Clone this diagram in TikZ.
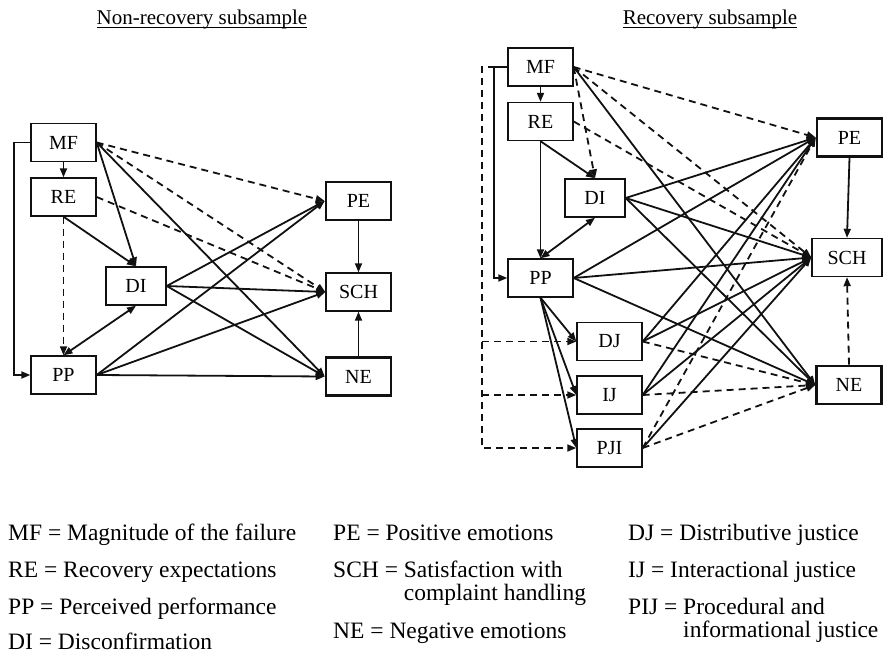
\documentclass[tikz,border=0pt]{standalone}
\usepackage{fontspec}
\setmainfont{Liberation Serif}
\usetikzlibrary{arrows.meta, positioning, calc}
\definecolor{InkBlack}{HTML}{111111}
\tikzset{
  varbox/.style={draw=InkBlack, line width=1.4pt, minimum width=65pt,
                 minimum height=38pt, inner sep=0pt,
                 font=\fontsize{20}{22}\selectfont},
  outbox/.style={varbox, line width=2.6pt},
  link/.style={-{Triangle[length=9pt,width=7pt]}, line width=1.8pt, draw=InkBlack},
  dlink/.style={link, dash pattern=on 7pt off 5pt},
  bilink/.style={{Triangle[length=9pt,width=7pt]}-{Triangle[length=9pt,width=7pt]},
                 line width=1.8pt, draw=InkBlack},
  heading/.style={anchor=base, inner sep=0pt, font=\fontsize{21}{24}\selectfont},
  legend/.style={anchor=base west, inner sep=0pt, font=\fontsize{23.5}{23}\selectfont},
}

\begin{document}
\begin{tikzpicture}[x=1pt, y=-1pt]
  \useasboundingbox (0,0) rectangle (887,658);

  % titles
  \node[heading] (nrTitle) at (202,25) {Non-recovery subsample};
  \node[heading] (rcTitle) at (710,25) {Recovery subsample};
  \draw[line width=1pt] ([yshift=-3pt]nrTitle.base west) -- ([yshift=-3pt]nrTitle.base east);
  \draw[line width=1pt] ([yshift=-3pt]rcTitle.base west) -- ([yshift=-3pt]rcTitle.base east);

  % non-recovery model
  \node[varbox] (nrMF) at (63.5,142.5) {MF};
  \node[varbox] (nrRE) at (63.5,197) {RE};
  \node[varbox, minimum width=60pt] (nrDI) at (136,286) {DI};
  \node[varbox] (nrPP) at (63.5,375) {PP};
  \node[outbox] (nrPE) at (358.5,201) {PE};
  \node[varbox] (nrSCH) at (358.5,292) {SCH};
  \node[outbox] (nrNE) at (358.5,376.5) {NE};

  \draw[link] (nrMF.south) -- (nrRE.north);
  \draw[link] (nrMF.west) -- ++(-16,0) |- (nrPP.west);
  \draw[dlink] (nrMF.east) -- (nrPE.west);
  \draw[dlink] (nrMF.east) -- (nrSCH.west);
  \draw[link] (nrMF.east) -- (nrDI.north);
  \draw[link] (nrMF.east) -- (nrNE.west);
  \draw[dlink] (nrRE.east) -- (nrSCH.west);
  \draw[link] (nrRE.south) -- (nrDI.north);
  \draw[dlink] (nrRE.south) -- (nrPP.north);
  \draw[bilink] (nrPP.north) -- (nrDI.south);
  \foreach \src in {DI,PP}
    \foreach \dst in {PE,SCH,NE}
      \draw[link] (nr\src.east) -- (nr\dst.west);
  \draw[link] (nrPE.south) -- (nrSCH.north);
  \draw[link] (nrNE.north) -- (nrSCH.south);

  % recovery model
  \node[varbox] (rcMF) at (540.5,67) {MF};
  \node[varbox] (rcRE) at (540.5,121.5) {RE};
  \node[varbox, minimum width=60pt] (rcDI) at (595,198) {DI};
  \node[varbox] (rcPP) at (540.5,278) {PP};
  \node[varbox] (rcDJ) at (609.5,341.5) {DJ};
  \node[varbox] (rcIJ) at (609.5,395) {IJ};
  \node[varbox] (rcPJI) at (609.5,448) {PJI};
  \node[outbox] (rcPE) at (849.5,137.5) {PE};
  \node[varbox, minimum width=70pt] (rcSCH) at (847,257.5) {SCH};
  \node[outbox] (rcNE) at (849,385) {NE};

  \coordinate (rcSpine) at ($(rcMF.west)+(-25,0)$);
  \coordinate (rcTapDJ) at (rcSpine |- rcDJ.west);
  \coordinate (rcTapIJ) at (rcSpine |- rcIJ.west);

  \draw[link] (rcMF.south) -- (rcRE.north);
  \draw[dlink] (rcMF.west) -- (rcSpine) |- (rcPJI.west);
  \draw[dlink] (rcTapDJ) -- (rcDJ.west);
  \draw[dlink] (rcTapIJ) -- (rcIJ.west);
  \draw[link] (rcMF.west) -- ++(-13,0) |- (rcPP.west);
  \draw[dlink] (rcMF.east) -- (rcPE.west);
  \draw[dlink] (rcMF.east) -- (rcSCH.west);
  \draw[dlink] (rcMF.east) -- (rcDI.north);
  \draw[link] (rcMF.east) -- (rcNE.west);
  \draw[dlink] (rcRE.east) -- (rcSCH.west);
  \draw[link] (rcRE.south) -- (rcDI.north);
  \draw[link] (rcRE.south) -- (rcPP.north);
  \draw[bilink] (rcPP.north) -- (rcDI.south);
  \foreach \src in {DI,PP}
    \foreach \dst in {PE,SCH,NE}
      \draw[link] (rc\src.east) -- (rc\dst.west);
  \foreach \dst in {DJ,IJ,PJI}
    \draw[link] (rcPP.south) -- (rc\dst.west);
  \foreach \src in {DJ,IJ}
    \foreach \dst in {PE,SCH}
      \draw[link] (rc\src.east) -- (rc\dst.west);
  \foreach \src in {DJ,IJ,PJI}
    \draw[dlink] (rc\src.east) -- (rcNE.west);
  \draw[dlink] (rcPJI.east) -- (rcPE.west);
  \draw[link] (rcPJI.east) -- (rcSCH.west);
  \draw[link] (rcPE.south) -- (rcSCH.north);
  \draw[dlink] (rcNE.north) -- (rcSCH.south);

  % legend
  \node[legend] (keyMF) at (8,540) {MF = Magnitude of the failure};
  \node[legend] (keyRE) at (8,577) {RE = Recovery expectations};
  \node[legend] (keyPP) at (8,614) {PP = Perceived performance};
  \node[legend] (keyDI) at (8,649) {DI = Disconfirmation};
  \node[legend] (keyPE) at (333,540) {PE = Positive emotions};
  \node[legend] (keySCH) at (333,577) {SCH = \begin{tabular}[t]{@{}l@{}}Satisfaction with\\ complaint handling\end{tabular}};
  \node[legend] (keyNE) at (333,638) {NE = Negative emotions};
  \node[legend] (keyDJ) at (628,540) {DJ = Distributive justice};
  \node[legend] (keyIJ) at (628,577) {IJ = Interactional justice};
  \node[legend] (keyPIJ) at (628,614) {PIJ = \begin{tabular}[t]{@{}l@{}}Procedural and\\ informational justice\end{tabular}};
\end{tikzpicture}
\end{document}
